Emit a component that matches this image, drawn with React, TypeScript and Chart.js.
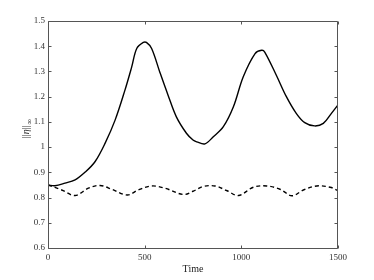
import React, { useEffect, useRef } from "react";
import { Chart, registerables } from "chart.js";

Chart.register(...registerables);

const solidT = [0, 36, 88, 140, 191, 243, 295, 347, 398, 433, 459, 493, 509, 536, 578, 621, 664, 716, 750, 769, 812, 855, 907, 959, 1010, 1071, 1105, 1121, 1181, 1233, 1284, 1328, 1379, 1424, 1466, 1500];
const solidV = [0.85, 0.847, 0.857, 0.87, 0.9, 0.942, 1.015, 1.107, 1.226, 1.318, 1.391, 1.415, 1.415, 1.391, 1.298, 1.206, 1.12, 1.055, 1.028, 1.021, 1.013, 1.041, 1.081, 1.16, 1.279, 1.371, 1.384, 1.377, 1.285, 1.2, 1.134, 1.097, 1.084, 1.094, 1.134, 1.167];

const dashT = [0, 71, 140, 209, 269, 330, 410, 467, 536, 605, 700, 750, 803, 864, 924, 985, 1062, 1131, 1200, 1262, 1321, 1390, 1459, 1500];
const dashV = [0.85, 0.83, 0.808, 0.837, 0.848, 0.833, 0.81, 0.83, 0.846, 0.837, 0.812, 0.825, 0.844, 0.846, 0.828, 0.808, 0.841, 0.846, 0.833, 0.807, 0.83, 0.846, 0.841, 0.828];

const xTicks = [0, 500, 1000, 1500];
const yTicks = [0.6, 0.7, 0.8, 0.9, 1.0, 1.1, 1.2, 1.3, 1.4, 1.5];
const xLabel = "Time";

const FONT = "'Liberation Serif', 'DejaVu Serif', serif";
const AXIS_COLOR = "#555555";

const boxPlugin = {
  id: "boxTicks",
  afterDraw(chart: any) {
    const ctx: CanvasRenderingContext2D = chart.ctx;
    const a = chart.chartArea;
    const x = chart.scales.x;
    const y = chart.scales.y;
    ctx.save();
    ctx.setLineDash([]);
    ctx.globalAlpha = 1;
    ctx.globalCompositeOperation = "source-over";
    ctx.lineWidth = 1;
    ctx.strokeStyle = AXIS_COLOR;
    const l = Math.round(a.left) + 0.5;
    const r = Math.round(a.right) - 0.5;
    const t = Math.round(a.top) + 0.5;
    const b = Math.round(a.bottom) + 0.5;
    ctx.beginPath();
    ctx.moveTo(l, t);
    ctx.lineTo(r, t);
    ctx.lineTo(r, b);
    ctx.lineTo(l, b);
    ctx.closePath();
    const L = 3;
    yTicks.forEach((v) => {
      const py = Math.round(y.getPixelForValue(v)) + 0.5;
      ctx.moveTo(l, py);
      ctx.lineTo(l + L, py);
      ctx.moveTo(r, py);
      ctx.lineTo(r - L, py);
    });
    xTicks.forEach((v) => {
      const px = Math.round(x.getPixelForValue(v)) + 0.5;
      ctx.moveTo(px, b);
      ctx.lineTo(px, b - L);
      ctx.moveTo(px, t);
      ctx.lineTo(px, t + L);
    });
    ctx.stroke();

    // y-axis title ||η||∞
    ctx.fillStyle = "#333";
    ctx.translate(25, (a.top + a.bottom) / 2 - 6);
    ctx.rotate(-Math.PI / 2);
    ctx.textBaseline = "alphabetic";
    const f1 = "10px " + FONT;
    const fi = "italic 10px " + FONT;
    const f2 = "8px " + FONT;
    ctx.font = f1;
    const wBar = ctx.measureText("||").width;
    ctx.font = fi;
    const wEta = ctx.measureText("η").width;
    ctx.font = f2;
    const wInf = ctx.measureText("∞").width;
    const total = wBar * 2 + wEta + wInf + 1;
    let cx = -total / 2;
    ctx.font = f1;
    ctx.fillText("||", cx, 4);
    cx += wBar;
    ctx.font = fi;
    ctx.fillText("η", cx, 4);
    cx += wEta;
    ctx.font = f1;
    ctx.fillText("||", cx, 4);
    cx += wBar + 0.5;
    ctx.font = f2;
    ctx.fillText("∞", cx, 7);
    ctx.restore();
  },
};

export default function App() {
  const ref = useRef<HTMLCanvasElement>(null);
  useEffect(() => {
    document.body.style.margin = "0";
    const chart = new Chart(ref.current!, {
      type: "line",
      data: {
        datasets: [
          {
            data: solidT.map((t, i) => ({ x: t, y: solidV[i] })),
            borderColor: "#000",
            borderWidth: 1.4,
            pointRadius: 0,
            tension: 0.35,
            fill: false,
          },
          {
            data: dashT.map((t, i) => ({ x: t, y: dashV[i] })),
            borderColor: "#000",
            borderWidth: 1.4,
            borderDash: [4, 3],
            pointRadius: 0,
            tension: 0.35,
            fill: false,
          },
        ],
      },
      options: {
        animation: false,
        responsive: false,
        maintainAspectRatio: false,
        layout: { padding: { top: 21, right: 36, left: 0, bottom: 0 } },
        plugins: { legend: { display: false }, tooltip: { enabled: false } },
        scales: {
          x: {
            type: "linear",
            min: 0,
            max: 1500,
            afterBuildTicks: (s: any) => {
              s.ticks = xTicks.map((v) => ({ value: v }));
            },
            afterFit: (s: any) => {
              s.height = 32;
            },
            grid: { display: false, drawTicks: false, tickLength: 0 },
            border: { display: false },
            ticks: {
              color: "#333",
              font: { family: FONT, size: 9 },
              padding: 4,
              maxRotation: 0,
              callback: (v: any) => String(v),
            },
            title: { display: true, text: xLabel, color: "#222", font: { family: FONT, size: 10 }, padding: { top: 0, bottom: 5 } },
          },
          y: {
            type: "linear",
            min: 0.6,
            max: 1.5,
            afterBuildTicks: (s: any) => {
              s.ticks = yTicks.map((v) => ({ value: v }));
            },
            afterFit: (s: any) => {
              s.width = 48;
            },
            grid: { display: false, drawTicks: false, tickLength: 0 },
            border: { display: false },
            ticks: {
              color: "#333",
              font: { family: FONT, size: 9 },
              padding: 3,
              callback: (v: any) => String(Number(Number(v).toFixed(1))),
            },
          },
        },
      },
      plugins: [boxPlugin],
    });
    return () => chart.destroy();
  }, []);
  return <canvas ref={ref} width={374} height={280} style={{ display: "block" }} />;
}
